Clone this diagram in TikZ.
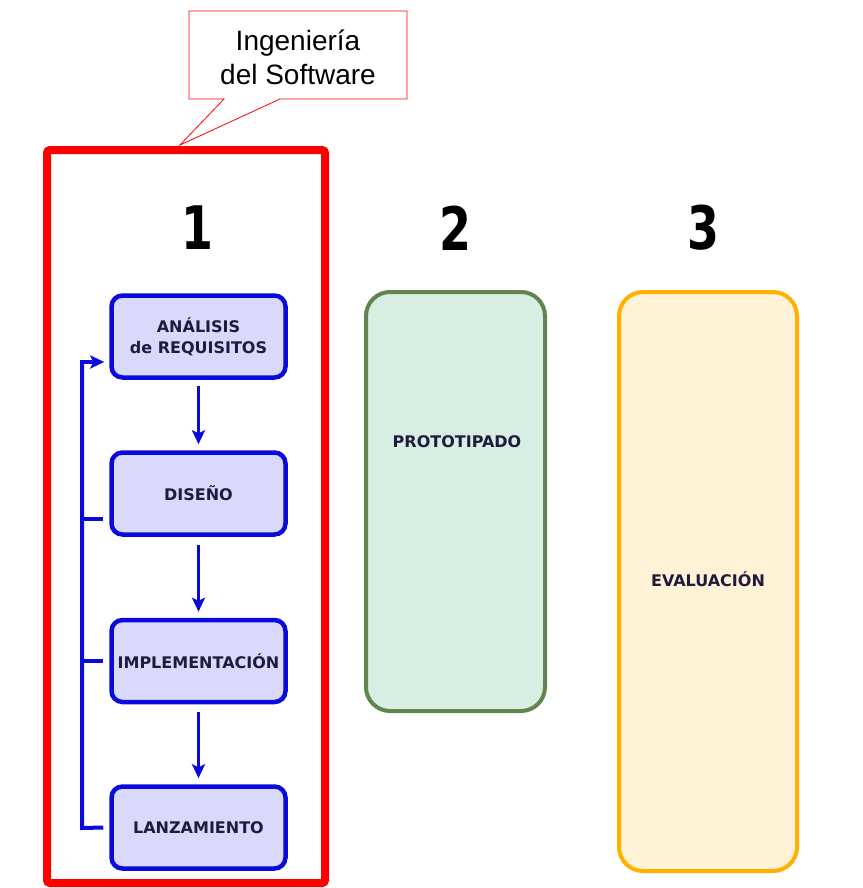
\documentclass[tikz,border=0pt]{standalone}
\usepackage{fontspec}
\setmainfont{DejaVu Sans}
\newfontfamily\calloutfont{Liberation Sans}
\newfontfamily\numfont{DejaVu Sans Condensed}
\usetikzlibrary{arrows.meta}
\definecolor{bluel}{HTML}{0A0ADC}
\definecolor{bluefill}{HTML}{D9D9FB}
\definecolor{navytext}{HTML}{1C1C3C}
\definecolor{greenl}{HTML}{62844F}
\definecolor{greenfill}{HTML}{D9EEE2}
\definecolor{orangel}{HTML}{FFB000}
\definecolor{orangefill}{HTML}{FFF2D6}
\definecolor{redl}{HTML}{FF0000}
\tikzset{
  stagebox/.style={draw=bluel, line width=4.5pt, fill=bluefill, rounded corners=11pt,
    minimum width=174pt, minimum height=82pt, align=center, inner sep=0pt,
    font=\fontsize{16}{21}\selectfont\bfseries, text=navytext},
  flowarrow/.style={draw=bluel, line width=3.5pt, -{Stealth[length=14pt,width=13pt,inset=3pt]}},
  fbline/.style={draw=bluel, line width=4pt},
  bignum/.style={font=\fontsize{60}{60}\selectfont\numfont\bfseries, inner sep=0pt},
  tallbox/.style={line width=4pt, rounded corners=24pt, align=center, inner sep=0pt,
    font=\fontsize{16}{21}\selectfont\bfseries, text=navytext, text depth=0pt}
}
\begin{document}
\begin{tikzpicture}[x=1pt,y=-1pt]
\useasboundingbox (0,0) rectangle (862,888);
% callout
\draw[redl, line width=0.8pt, fill=white]
  (189,11) -- (407,11) -- (407,99) -- (280,99) -- (180,145) -- (224,99) -- (189,99) -- cycle;
\node[font=\calloutfont\fontsize{28}{34}\selectfont, align=center, inner sep=0pt] (callout) at (298,57) {Ingeniería\\del Software};
% red frame
\draw[redl, line width=8pt, rounded corners=3pt] (47,150) rectangle (325,883);
\node[coordinate] (frame) at (186,150) {};
% numbers
\node[bignum] (n1) at (197,228) {\scalebox{0.85}[1]{1}};
\node[bignum] (n2) at (455,228) {\scalebox{0.85}[1]{2}};
\node[bignum] (n3) at (703,228) {\scalebox{0.85}[1]{3}};
% stages
\node[stagebox] (ana) at (198.5,336.5) {ANÁLISIS\\de REQUISITOS};
\node[stagebox] (dis) at (198.5,493.5) {DISEÑO};
\node[stagebox] (imp) at (198.5,661) {IMPLEMENTACIÓN};
\node[stagebox] (lan) at (198.5,827.5) {LANZAMIENTO};
% down arrows
\draw[flowarrow, shorten <=6pt, shorten >=6pt] (ana.south) -- (dis.north);
\draw[flowarrow, shorten <=8pt, shorten >=6pt] (dis.south) -- (imp.north);
\draw[flowarrow, shorten <=8pt, shorten >=6pt] (imp.south) -- (lan.north);
% feedback
\coordinate (fbtop) at (82,362);
\coordinate (fbbot) at (82,828);
\coordinate (anain) at ([yshift=-25.5pt]ana.west);
\draw[fbline] ([xshift=-6pt]lan.west) -- (fbbot) -- (fbtop);
\draw[flowarrow] ([xshift=-2pt]fbtop) -- ([xshift=-5pt]anain);
\draw[fbline] ([xshift=-6pt,yshift=-25.5pt]dis.west) -- (82,519);
\draw[fbline] ([xshift=-6pt]imp.west) -- (82,661);
% tall boxes
\draw[tallbox, draw=greenl, fill=greenfill] (366,292) rectangle (545,711);
\node[tallbox, draw=none] (proto) at (457,442) {PROTOTIPADO};
\draw[tallbox, draw=orangel, fill=orangefill] (619,292) rectangle (797,871);
\node[tallbox, draw=none] (eval) at (708,579) {EVALUACIÓN};
\end{tikzpicture}
\end{document}
